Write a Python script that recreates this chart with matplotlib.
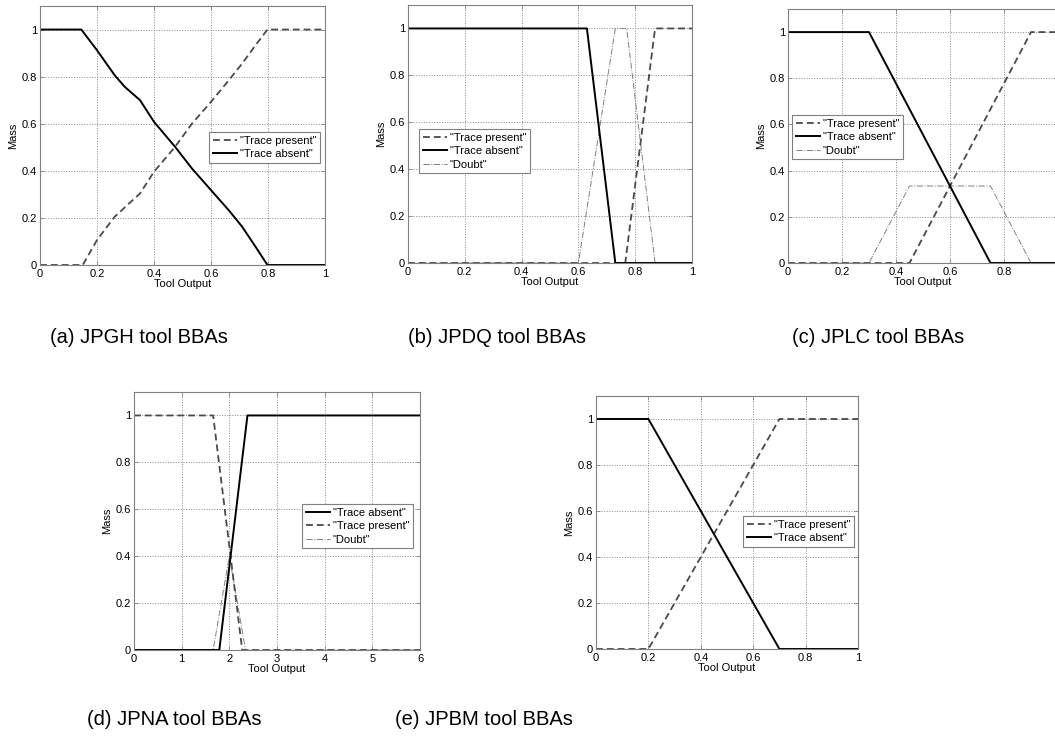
import matplotlib
matplotlib.use("Agg")
import matplotlib.pyplot as plt

W, H = 1055, 738
plt.rcParams['font.family'] = ['Liberation Sans', 'DejaVu Sans']

# ---------------- data ----------------
# (a) JPGH
a_absent_x = [0, 0.145, 0.2, 0.262, 0.298, 0.351, 0.4, 0.474, 0.533, 0.6, 0.662, 0.709, 0.756, 0.798, 1.0]
a_absent_y = [1, 1, 0.912, 0.806, 0.756, 0.700, 0.608, 0.502, 0.41, 0.318, 0.233, 0.163, 0.078, 0, 0]
a_present_x = [0, 0.15, 0.2, 0.262, 0.351, 0.4, 0.474, 0.533, 0.6, 0.662, 0.709, 0.756, 0.798, 1.0]
a_present_y = [0, 0, 0.106, 0.205, 0.304, 0.396, 0.502, 0.6, 0.693, 0.784, 0.855, 0.933, 1, 1]

# (b) JPDQ
b_absent_x = [0, 0.63, 0.73, 1]
b_absent_y = [1, 1, 0, 0]
b_present_x = [0, 0.765, 0.87, 1]
b_present_y = [0, 0, 1, 1]
b_doubt_x = [0, 0.6, 0.73, 0.77, 0.87, 1]
b_doubt_y = [0, 0, 1, 1, 0, 0]

# (c) JPLC
c_absent_x = [0, 0.3, 0.75, 1]
c_absent_y = [1, 1, 0, 0]
c_present_x = [0, 0.45, 0.9, 1]
c_present_y = [0, 0, 1, 1]
c_doubt_x = [0, 0.3, 0.45, 0.75, 0.9, 1]
c_doubt_y = [0, 0, 1 / 3, 1 / 3, 0, 0]

# (d) JPNA
d_absent_x = [0, 1.79, 2.38, 6]
d_absent_y = [0, 0, 1, 1]
d_present_x = [0, 1.66, 2.27, 6]
d_present_y = [1, 1, 0, 0]
d_doubt_x = [0, 1.66, 2.0, 2.34, 6]
d_doubt_y = [0, 0, 0.4, 0, 0]

# (e) JPBM
e_absent_x = [0, 0.2, 0.7, 1]
e_absent_y = [1, 1, 0, 0]
e_present_x = [0, 0.2, 0.7, 1]
e_present_y = [0, 0, 1, 1]

captions = ["(a) JPGH tool BBAs", "(b) JPDQ tool BBAs", "(c) JPLC tool BBAs",
            "(d) JPNA tool BBAs", "(e) JPBM tool BBAs"]
unit_ticks = [0, 0.2, 0.4, 0.6, 0.8, 1]
unit_ticklabels = ["0", "0.2", "0.4", "0.6", "0.8", "1"]
# panel (c) is cropped at the right edge in the reference: the "1" label is not visible
c_ticklabels = ["0", "0.2", "0.4", "0.6", "0.8", ""]
d_ticks = [0, 1, 2, 3, 4, 5, 6]
d_ticklabels = ["0", "1", "2", "3", "4", "5", "6"]

LBL_P = '"Trace present"'
LBL_A = '"Trace absent"'
LBL_D = '"Doubt"'

FS = 8

# ---------------- figure ----------------
fig = plt.figure(figsize=(W / 100, H / 100), dpi=100)


def add_ax(l, r, t, b):
    return fig.add_axes([l / W, 1 - b / H, (r - l) / W, (b - t) / H])


def style(ax, xticks, xticklabels, xmax):
    ax.set_xlim(0, xmax)
    ax.set_ylim(0, 1.1)
    ax.set_xticks(xticks)
    ax.set_xticklabels(xticklabels)
    ax.set_yticks(unit_ticks)
    ax.set_yticklabels(unit_ticklabels)
    ax.grid(True, linestyle=':', color='#888888', linewidth=0.7)
    ax.set_axisbelow(True)
    for s in ax.spines.values():
        s.set_color('#808080')
        s.set_linewidth(0.8)
    ax.tick_params(direction='in', length=3, width=0.6, color='#808080',
                   labelsize=FS, top=True, right=True)
    ax.tick_params(axis='x', pad=3)
    ax.tick_params(axis='y', pad=2)
    ax.set_xlabel('Tool Output', fontsize=FS, labelpad=0)
    ax.set_ylabel('Mass', fontsize=FS, labelpad=3)


def p_absent(ax, x, y, label):
    ax.plot(x, y, color='black', linewidth=1.4, linestyle='-', label=label)


def p_present(ax, x, y, label):
    ax.plot(x, y, color='#4a4a4a', linewidth=1.3, linestyle=(0, (3.8, 2.2)), label=label)


def p_doubt(ax, x, y, label):
    ax.plot(x, y, color='#808080', linewidth=0.7, linestyle='-.', label=label)


def legend(ax, handles_order, x_px, y_px):
    h, l = ax.get_legend_handles_labels()
    d = dict(zip(l, h))
    leg = ax.legend([d[k] for k in handles_order], handles_order,
                    loc='upper left', bbox_to_anchor=(x_px / W, 1 - y_px / H),
                    bbox_transform=fig.transFigure, borderaxespad=0,
                    fontsize=FS, fancybox=False, framealpha=1,
                    edgecolor='#808080', handlelength=2.2, handletextpad=0.2,
                    labelspacing=0.3, borderpad=0.35)
    leg.get_frame().set_linewidth(0.8)


# (a)
ax = add_ax(40, 325, 6, 265)
p_present(ax, a_present_x, a_present_y, LBL_P)
p_absent(ax, a_absent_x, a_absent_y, LBL_A)
style(ax, unit_ticks, unit_ticklabels, 1)
legend(ax, [LBL_P, LBL_A], 209, 132)

# (b)
ax = add_ax(408, 692, 5, 263)
p_doubt(ax, b_doubt_x, b_doubt_y, LBL_D)
p_present(ax, b_present_x, b_present_y, LBL_P)
p_absent(ax, b_absent_x, b_absent_y, LBL_A)
style(ax, unit_ticks, unit_ticklabels, 1)
legend(ax, [LBL_P, LBL_A, LBL_D], 419, 129)

# (c)
ax = add_ax(788, 1058, 9, 263)
p_doubt(ax, c_doubt_x, c_doubt_y, LBL_D)
p_present(ax, c_present_x, c_present_y, LBL_P)
p_absent(ax, c_absent_x, c_absent_y, LBL_A)
style(ax, unit_ticks, c_ticklabels, 1)
legend(ax, [LBL_P, LBL_A, LBL_D], 792, 115)

# (d)
ax = add_ax(134, 420, 392, 650)
p_doubt(ax, d_doubt_x, d_doubt_y, LBL_D)
p_present(ax, d_present_x, d_present_y, LBL_P)
p_absent(ax, d_absent_x, d_absent_y, LBL_A)
style(ax, d_ticks, d_ticklabels, 6)
legend(ax, [LBL_A, LBL_P, LBL_D], 302, 504)

# (e)
ax = add_ax(596, 858, 396, 649)
p_present(ax, e_present_x, e_present_y, LBL_P)
p_absent(ax, e_absent_x, e_absent_y, LBL_A)
style(ax, unit_ticks, unit_ticklabels, 1)
legend(ax, [LBL_P, LBL_A], 743, 516)

# captions
cap_pos = [(50, 343), (408, 343), (792, 343), (87, 725), (395, 725)]
for txt, (x, y) in zip(captions, cap_pos):
    fig.text(x / W, 1 - y / H, txt, fontsize=14.5, ha='left', va='baseline')

fig.savefig('out.png', dpi=100)
